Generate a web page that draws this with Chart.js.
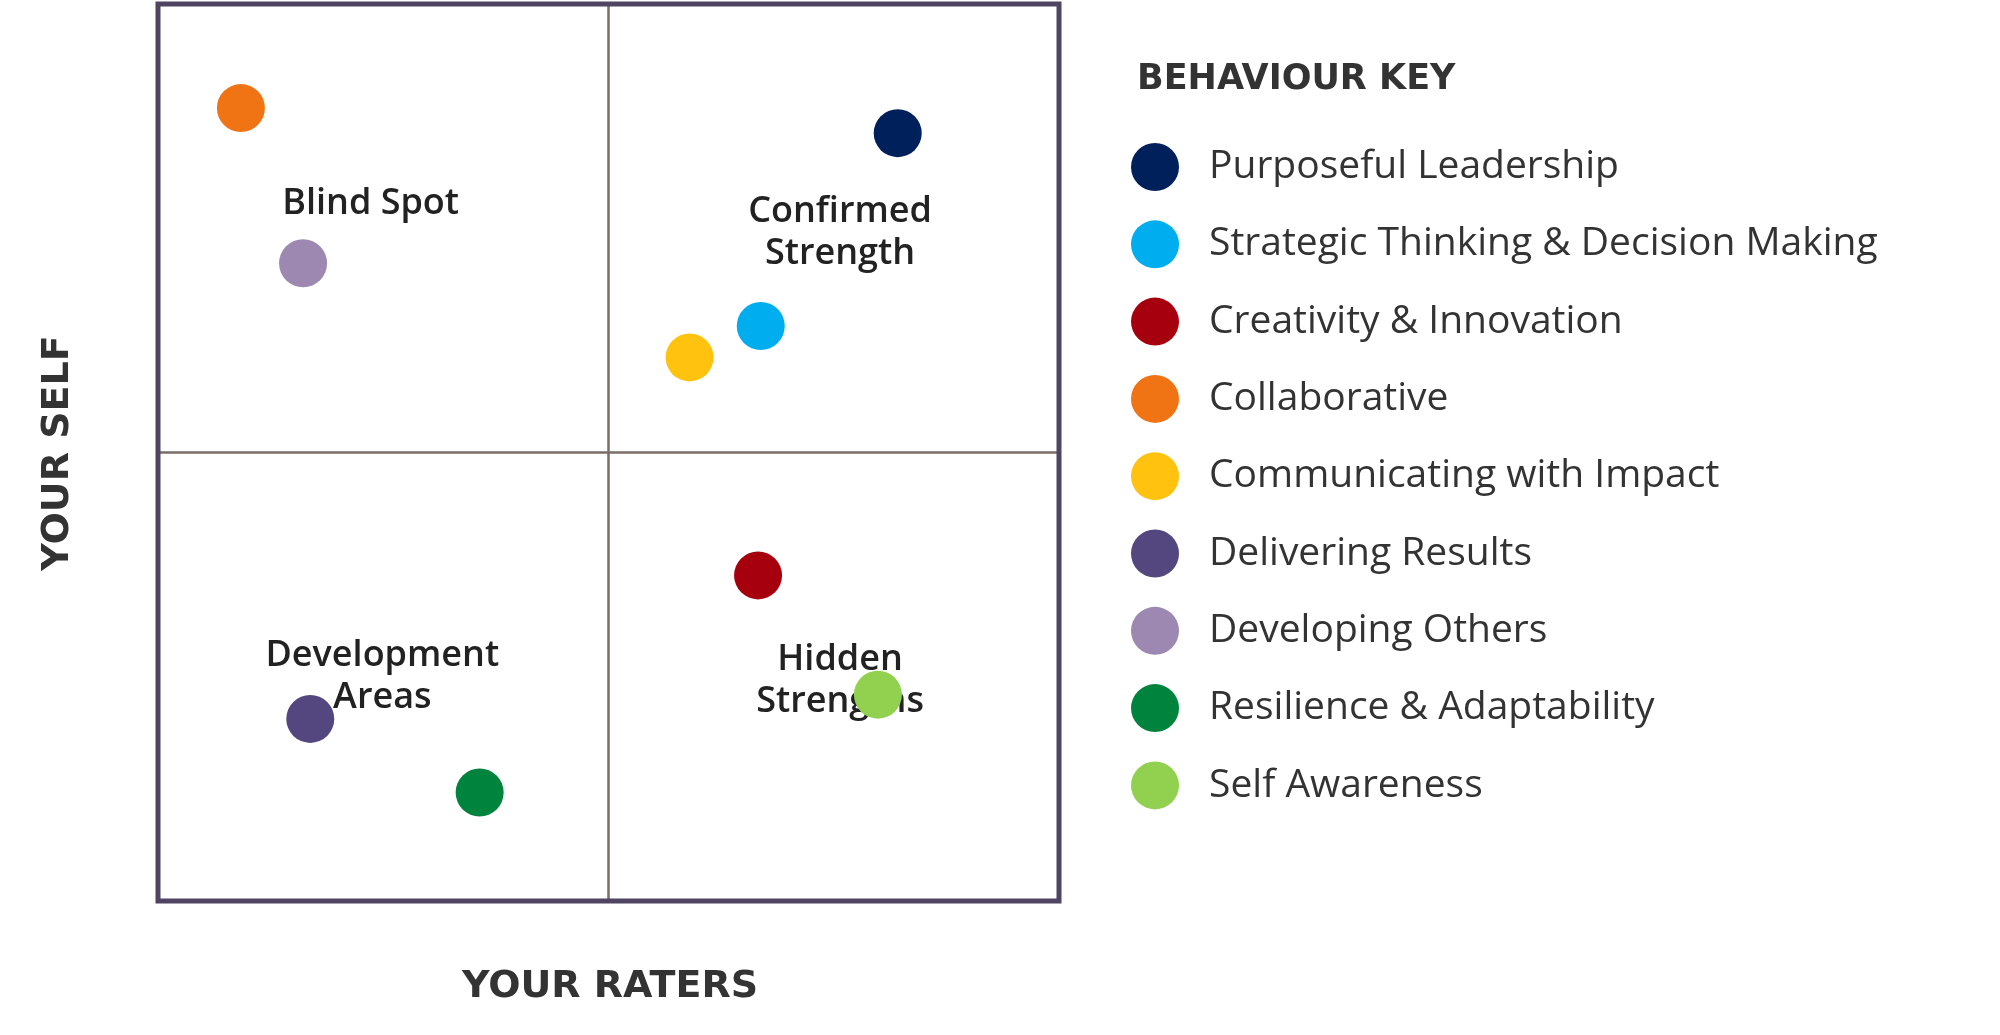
<!DOCTYPE html>
<html>
<head>
<meta charset="utf-8">
<script src="https://cdn.jsdelivr.net/npm/chart.js@4.4.1/dist/chart.umd.min.js"></script>
<style>
  body { margin: 0; background: #fff; }
  #wrap { width: 2000px; height: 1035px; }
</style>
</head>
<body>
<div id="wrap"><canvas id="chart"></canvas></div>
<script>
// behaviours and their scores (raters on x, self on y, 0-10)
const behaviours = ["Purposeful Leadership", "Strategic Thinking & Decision Making", "Creativity & Innovation",
    "Collaborative", "Communicating with Impact", "Delivering Results", "Developing Others",
    "Resilience & Adaptability", "Self Awareness"];
const ratersScore = [8.21, 6.69, 6.66, 0.92, 5.90, 1.69, 1.61, 3.57, 7.99];
const selfScore = [8.56, 6.41, 3.63, 8.84, 6.06, 2.03, 7.11, 1.21, 2.30];
const colours = ["#00205B", "#00AEEF", "#A6000F", "#F07314", "#FFC20E", "#54467F", "#9C88B0", "#00843D", "#92D050"];
const quadrantLabels = [
    { text: ["Blind Spot"], x: 2.36, y: 7.77 },
    { text: ["Confirmed", "Strength"], x: 7.57, y: 7.45 },
    { text: ["Development", "Areas"], x: 2.49, y: 2.5 },
    { text: ["Hidden", "Strengths"], x: 7.57, y: 2.46 }
];

const quadrantPlugin = {
    id: 'quadrants',
    beforeDatasetsDraw(chart) {
        const { ctx, chartArea: a, scales: { x, y } } = chart;
        ctx.save();
        // mid lines
        ctx.strokeStyle = '#7a6e66';
        ctx.lineWidth = 2.5;
        ctx.beginPath();
        ctx.moveTo(x.getPixelForValue(5), a.top);
        ctx.lineTo(x.getPixelForValue(5), a.bottom);
        ctx.moveTo(a.left, y.getPixelForValue(5));
        ctx.lineTo(a.right, y.getPixelForValue(5));
        ctx.stroke();
        // outer frame
        ctx.strokeStyle = '#4F4563';
        ctx.lineWidth = 5;
        ctx.strokeRect(a.left, a.top, a.right - a.left, a.bottom - a.top);
        // quadrant names
        ctx.fillStyle = '#222';
        ctx.font = '600 36px "Open Sans"';
        ctx.textAlign = 'center';
        ctx.textBaseline = 'middle';
        quadrantLabels.forEach(q => {
            const cx = x.getPixelForValue(q.x);
            const cy = y.getPixelForValue(q.y);
            const n = q.text.length;
            q.text.forEach((t, i) => ctx.fillText(t, cx, cy + (i - (n - 1) / 2) * 42));
        });
        ctx.restore();
    },
    afterDraw(chart) {
        const { ctx } = chart;
        ctx.save();
        ctx.fillStyle = '#333';
        ctx.font = 'bold 38px "DejaVu Sans"';
        ctx.textAlign = 'center';
        ctx.textBaseline = 'middle';
        ctx.fillText('YOUR RATERS', 610, 987);
        ctx.translate(58, 453);
        ctx.rotate(-Math.PI / 2);
        ctx.fillText('YOUR SELF', 0, 0);
        ctx.restore();
        // legend
        ctx.save();
        ctx.textAlign = 'left';
        ctx.textBaseline = 'middle';
        ctx.fillStyle = '#333';
        ctx.font = 'bold 35px "DejaVu Sans"';
        ctx.fillText('BEHAVIOUR KEY', 1137, 80);
        ctx.font = '39px "Open Sans"';
        behaviours.forEach((b, i) => {
            const yy = 167 + i * 77.3;
            ctx.fillStyle = colours[i];
            ctx.beginPath();
            ctx.arc(1155, yy, 24, 0, Math.PI * 2);
            ctx.fill();
            ctx.fillStyle = '#333';
            ctx.fillText(b, 1209, yy);
        });
        ctx.restore();
    }
};

new Chart(document.getElementById('chart'), {
    type: 'scatter',
    data: {
        datasets: behaviours.map((b, i) => ({
            label: b,
            data: [{ x: ratersScore[i], y: selfScore[i] }],
            backgroundColor: colours[i],
            borderWidth: 0,
            pointRadius: 24,
            pointHoverRadius: 24
        }))
    },
    options: {
        responsive: true,
        maintainAspectRatio: false,
        animation: false,
        layout: { autoPadding: false, padding: { left: 158, right: 941, top: 4, bottom: 134 } },
        plugins: { legend: { display: false }, tooltip: { enabled: false } },
        scales: {
            x: { min: 0, max: 10, display: false },
            y: { min: 0, max: 10, display: false }
        }
    },
    plugins: [quadrantPlugin]
});
</script>
</body>
</html>
